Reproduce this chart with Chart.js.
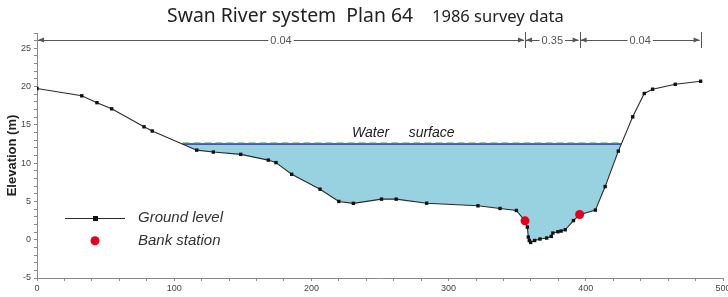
<!DOCTYPE html>
<html>
<head>
<meta charset="utf-8">
<style>
  html, body { margin: 0; padding: 0; background: #fff; }
  #wrap { width: 728px; height: 297px; }
</style>
<script src="https://cdn.jsdelivr.net/npm/chart.js@4/dist/chart.umd.min.js"></script>
</head>
<body>
<div id="wrap"><canvas id="c" width="728" height="297"></canvas></div>
<script>
// Cross section survey points: station (m) and ground elevation (m)
const groundX = [0, 32.6, 43.7, 54.4, 78, 84, 116.4, 128.5, 148.5, 168.6, 174.2, 185.6, 206.3, 220,
  230.6, 251.1, 261.8, 284, 321.4, 337.5, 349.4, 354.6, 357.4, 358.1, 358.8, 359.8, 362.7, 366.6,
  371.5, 374.8, 376, 379.7, 382, 385, 391, 395.5, 407, 414.1, 423.7, 434.2, 442.6, 448.7, 465.2, 483.7];
const groundY = [19.75, 18.8, 17.9, 17.1, 14.75, 14.2, 11.7, 11.45, 11.15, 10.4, 10.07, 8.55, 6.6, 5.0,
  4.75, 5.3, 5.3, 4.77, 4.43, 4.08, 3.82, 2.7, 1.65, 0.35, -0.1, -0.35, -0.1, 0.09,
  0.22, 0.43, 0.87, 1.04, 1.13, 1.3, 2.5, 3.25, 3.87, 6.94, 11.57, 16.05, 19.1, 19.66, 20.3, 20.7];

const bankX = [355.7, 395.5];
const bankY = [2.47, 3.3];

const waterLevel = 12.5;
const waterEdges = [106, 425.8];

// Manning's n per reach (left overbank, channel, right overbank)
const manningN = [0.04, 0.35, 0.04];

const chartTitle = 'Swan River system  Plan 64';
const chartSubtitle = '1986 survey data';

const ground = groundX.map((x, i) => ({ x, y: groundY[i] }));
const banks = bankX.map((x, i) => ({ x, y: bankY[i] }));
const surface = waterEdges.map(x => ({ x, y: waterLevel }));
const waterShape = [surface[0]]
  .concat(ground.filter(p => p.x > waterEdges[0] && p.x < waterEdges[1]))
  .concat([surface[1]]);

const AXIS = '#8a8a8a';
const TICK_TEXT = '#444';

const overlay = {
  id: 'overlay',
  beforeDatasetDraw(chart, args) {
    // dashed green edge sits one pixel above the blue water line
    if (args.meta._dataset.id === 'surfaceDash') {
      chart.ctx.save();
      chart.ctx.translate(0, -1);
    }
  },
  afterDatasetDraw(chart, args) {
    if (args.meta._dataset.id === 'surfaceDash') chart.ctx.restore();
  },
  afterDraw(chart) {
    const { ctx, chartArea, scales } = chart;
    const xs = scales.x, ys = scales.y;
    ctx.save();

    // title
    ctx.fillStyle = '#222';
    ctx.textBaseline = 'alphabetic';
    ctx.textAlign = 'left';
    ctx.font = '19.4px "Noto Sans", sans-serif';
    ctx.fillText(chartTitle, 167, 22);
    ctx.font = '16.5px "Noto Sans", sans-serif';
    ctx.fillText(chartSubtitle, 432, 22);

    // roughness reaches
    const bounds = [groundX[0], bankX[0], bankX[1], groundX[groundX.length - 1]];
    const ly = chartArea.top + 7;
    ctx.strokeStyle = '#555';
    ctx.fillStyle = '#555';
    ctx.lineWidth = 1;
    ctx.font = '11px "Liberation Sans", Arial, sans-serif';
    ctx.textAlign = 'center';
    ctx.textBaseline = 'middle';
    const arrow = (x, dir) => {
      ctx.beginPath();
      ctx.moveTo(x, ly);
      ctx.lineTo(x - dir * 6, ly - 2.5);
      ctx.lineTo(x - dir * 6, ly + 2.5);
      ctx.closePath();
      ctx.fill();
    };
    bounds.forEach((b, i) => {
      const px = Math.round(xs.getPixelForValue(b)) + 0.5;
      if (i > 0) {
        ctx.beginPath();
        ctx.moveTo(px, ly - 8);
        ctx.lineTo(px, ly + 8);
        ctx.stroke();
      }
    });
    manningN.forEach((n, i) => {
      const x0 = xs.getPixelForValue(bounds[i]) + 1;
      const x1 = xs.getPixelForValue(bounds[i + 1]) - 1;
      const mid = (x0 + x1) / 2;
      const label = n.toFixed(2);
      const half = ctx.measureText(label).width / 2 + 2;
      ctx.beginPath();
      ctx.moveTo(x0, ly + 0.5);
      ctx.lineTo(mid - half, ly + 0.5);
      ctx.moveTo(mid + half, ly + 0.5);
      ctx.lineTo(x1, ly + 0.5);
      ctx.stroke();
      arrow(x0, -1);
      arrow(x1, 1);
      ctx.fillText(label, mid, ly + 1);
    });

    // water surface label
    ctx.fillStyle = '#222';
    ctx.font = 'italic 14px "Liberation Sans", Arial, sans-serif';
    ctx.textBaseline = 'alphabetic';
    ctx.textAlign = 'center';
    ctx.fillText('Water     surface', xs.getPixelForValue(267), ys.getPixelForValue(waterLevel) - 7);

    // legend inside plot, lower left
    const lx = chartArea.left + 28, gy = ys.getPixelForValue(2.8), by = ys.getPixelForValue(0);
    const gds = chart.data.datasets.find(d => d.id === 'ground');
    const bds = chart.data.datasets.find(d => d.id === 'bank');
    ctx.strokeStyle = gds.borderColor;
    ctx.lineWidth = 1;
    ctx.beginPath();
    ctx.moveTo(lx, Math.round(gy) + 0.5);
    ctx.lineTo(lx + 60, Math.round(gy) + 0.5);
    ctx.stroke();
    ctx.fillStyle = gds.pointBackgroundColor;
    ctx.fillRect(lx + 28, Math.round(gy) - 2, 5, 5);
    ctx.fillStyle = bds.pointBackgroundColor;
    ctx.beginPath();
    ctx.arc(lx + 30, by + 1, 4.5, 0, Math.PI * 2);
    ctx.fill();
    ctx.fillStyle = '#333';
    ctx.font = 'italic 15px "Liberation Sans", Arial, sans-serif';
    ctx.textAlign = 'left';
    ctx.textBaseline = 'middle';
    ctx.fillText(gds.label, lx + 73, gy);
    ctx.fillText(bds.label, lx + 73, by + 1);

    ctx.restore();
  }
};

new Chart(document.getElementById('c'), {
  type: 'scatter',
  data: {
    datasets: [
      {
        id: 'bank', label: 'Bank station', data: banks, order: 0,
        pointRadius: 4.5, pointBackgroundColor: '#e3001b', pointBorderWidth: 0,
        showLine: false
      },
      {
        id: 'ground', label: 'Ground level', data: ground, order: 1,
        showLine: true, borderColor: '#2a2a2a', borderWidth: 1.1,
        pointStyle: 'rect', pointRadius: 2.4, pointBackgroundColor: '#111', pointBorderWidth: 0
      },
      {
        id: 'surfaceDash', label: 'Water surface edge', data: surface, order: 2,
        showLine: true, borderColor: '#3f9a3c', borderWidth: 1, borderDash: [7, 4], pointRadius: 0
      },
      {
        id: 'surface', label: 'Water surface', data: surface, order: 3,
        showLine: true, borderColor: '#24339a', borderWidth: 1.3, pointRadius: 0
      },
      {
        id: 'water', label: 'Water', data: waterShape, order: 4,
        showLine: true, borderWidth: 0, pointRadius: 0,
        backgroundColor: '#98d2e1', fill: 'shape'
      }
    ]
  },
  options: {
    responsive: false,
    animation: false,
    devicePixelRatio: 1,
    layout: { padding: { top: 33, right: 5, left: 0, bottom: 0 } },
    plugins: { legend: { display: false }, tooltip: { enabled: false } },
    scales: {
      x: {
        type: 'linear', min: 0, max: 500,
        border: { color: AXIS, width: 1 },
        grid: { drawOnChartArea: false, drawTicks: true, tickLength: 3, color: AXIS },
        ticks: {
          stepSize: 20, autoSkip: false, maxRotation: 0, padding: 2,
          color: TICK_TEXT, font: { family: '"Liberation Sans", Arial, sans-serif', size: 9 },
          callback: v => (v % 100 === 0 ? String(v) : '')
        },
        afterFit(scale) {
          scale.height = 19;
          scale.paddingLeft = 0;
          scale.paddingRight = 0;
        }
      },
      y: {
        min: -5, max: 27,
        border: { color: AXIS, width: 1 },
        grid: { drawOnChartArea: false, drawTicks: true, tickLength: 3, color: AXIS },
        ticks: {
          stepSize: 1, autoSkip: false, padding: 3,
          color: TICK_TEXT, font: { family: '"Liberation Sans", Arial, sans-serif', size: 9 },
          callback: v => (v % 5 === 0 ? String(v) : '')
        },
        title: {
          display: true, text: 'Elevation (m)', color: '#222', padding: { top: 5, bottom: 0 },
          font: { family: '"Liberation Sans", Arial, sans-serif', size: 13, weight: 'bold' }
        },
        afterFit(scale) {
          scale.width = 37;
          scale.paddingTop = 0;
          scale.paddingBottom = 0;
        }
      }
    }
  },
  plugins: [overlay]
});
</script>
</body>
</html>
